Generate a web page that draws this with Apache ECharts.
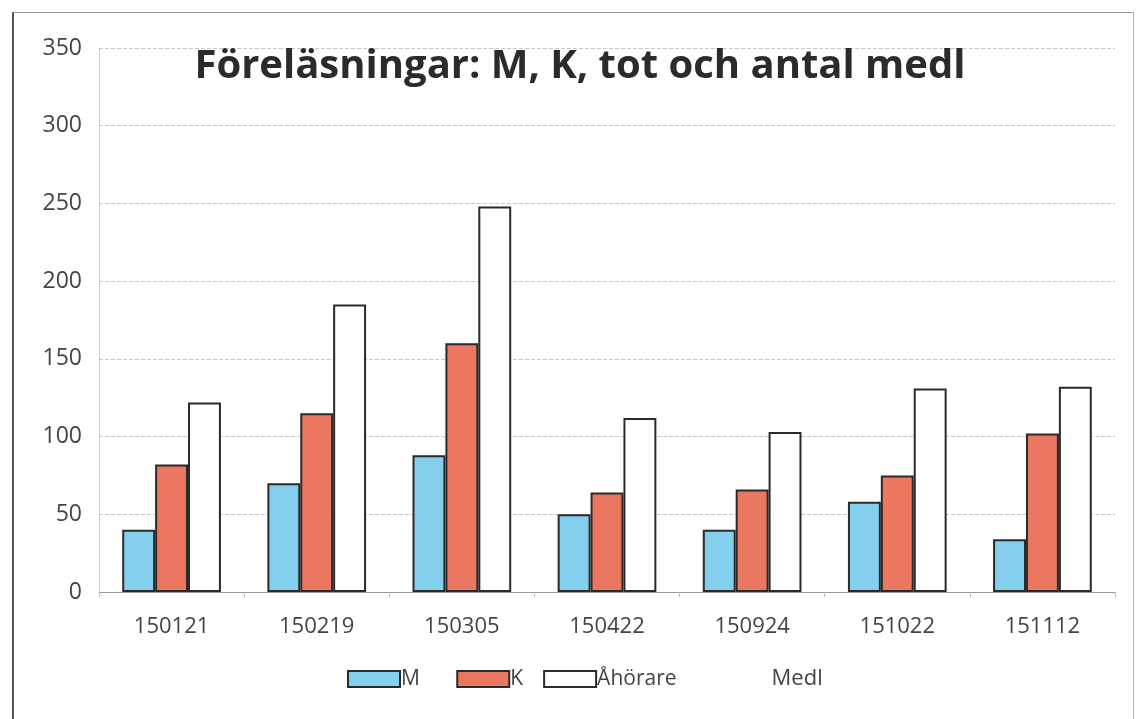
<!DOCTYPE html>
<html><head><meta charset="utf-8">
<script src="https://cdn.jsdelivr.net/npm/echarts@6/dist/echarts.min.js"></script>
<style>html,body{margin:0;padding:0;background:#fff}
#frame{position:absolute;left:12px;top:12px;width:1122px;height:720px;border-left:2px solid #555;border-top:1px solid #999;border-right:1px solid #bbb;box-sizing:border-box}
#c{position:absolute;left:0;top:0;width:1143px;height:719px}</style>
</head><body>
<div id="frame"></div>
<div id="c"></div>
<script>
const categories = ['150121','150219','150305','150422','150924','151022','151112'];
const seriesNames = ['M','K','Åhörare','Medl'];
const valuesM = [40, 70, 88, 50, 40, 58, 34];
const valuesK = [82, 115, 160, 64, 66, 75, 102];
const valuesA = [122, 185, 248, 112, 103, 131, 132];
const valuesMedl = [null, null, null, null, null, null, null];
const yTicks = [0, 50, 100, 150, 200, 250, 300, 350];

const chart = echarts.init(document.getElementById('c'), null, {renderer:'canvas'});
const font = '"Open Sans", "Noto Sans", sans-serif';
const border = {borderColor:'#2a2a2a', borderWidth:2};
chart.setOption({
  animation:false,
  title:{text:'Föreläsningar: M, K, tot och antal medl', left:575, top:42, textAlign:'center',
    textStyle:{fontFamily:font, fontSize:40, fontWeight:'bold', color:'#2b2b2b'}},
  legend:{bottom:24, left:342, itemWidth:52, itemHeight:16, itemGap:20,
    formatter:n=>n==='M'?'M   ':n,
    textStyle:{fontFamily:font, fontSize:21, color:'#444', padding:[0,0,0,-4]},
    data:[{name:'M', icon:'rect'},{name:'K', icon:'rect'},{name:'Åhörare', icon:'rect'},
      {name:'Medl', icon:'none', textStyle:{padding:[0,0,0,18], fontSize:22}}]},
  grid:{left:99, right:28, top:48, bottom:127},
  xAxis:{type:'category', data:categories,
    axisLine:{lineStyle:{color:'#999', width:1}},
    axisTick:{show:true, alignWithLabel:false, length:5, lineStyle:{color:'#bbb'}},
    axisLabel:{fontFamily:font, fontSize:22, color:'#444', margin:24}},
  yAxis:{type:'value', min:0, max:350, interval:50,
    axisLine:{show:true, lineStyle:{color:'#ccc'}},
    axisTick:{show:false},
    splitLine:{lineStyle:{color:'#c8c8c8', type:'dashed', width:1}},
    axisLabel:{fontFamily:font, fontSize:23, color:'#444', margin:17,
      formatter:v=>yTicks.includes(v)?String(v):''}},
  series:[
    {name:'M', type:'bar', data:valuesM, barGap:'0%', barCategoryGap:'32%',
      itemStyle:Object.assign({color:'#84cfee'}, border)},
    {name:'K', type:'bar', data:valuesK,
      itemStyle:Object.assign({color:'#eb7761'}, border)},
    {name:'Åhörare', type:'bar', data:valuesA,
      itemStyle:Object.assign({color:'#ffffff'}, border)},
    {name:'Medl', type:'line', data:valuesMedl, symbol:'none', lineStyle:{opacity:0}, itemStyle:{opacity:0}}
  ]
});
</script>
</body></html>
